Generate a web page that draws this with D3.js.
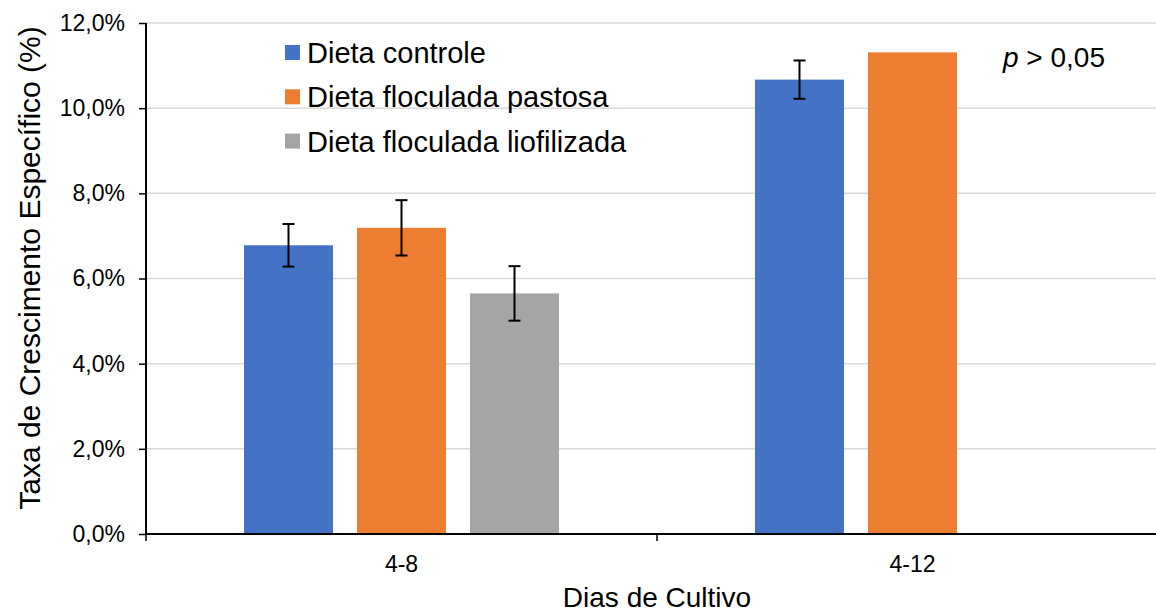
<!DOCTYPE html>
<html>
<head>
<meta charset="utf-8">
<script src="https://cdn.jsdelivr.net/npm/d3@7"></script>
<style>
  body { margin: 0; background: #fff; }
  text { font-family: "Liberation Sans", Arial, sans-serif; fill: #000; }
</style>
</head>
<body>
<div id="chart"></div>
<script>
// data
const categories = ['4-8', '4-12'];
const series = ['Dieta controle', 'Dieta floculada pastosa', 'Dieta floculada liofilizada'];
const colors = ['#4472C4', '#ED7D31', '#A5A5A5'];
// values in %, null = no bar
const values = [
    [6.78, 10.67],
    [7.19, 11.31],
    [5.65, null]
];
const errors = [
    [0.50, 0.45],
    [0.65, null],
    [0.64, null]
];
const yTicks = [0, 2, 4, 6, 8, 10, 12];

let width = 1156,
    height = 614,
    margin = { top: 23, right: -12, bottom: 80, left: 146 };

let svg = d3.select('#chart')
    .append('svg')
    .attr('width', width)
    .attr('height', height);

let plotW = width - margin.left - margin.right,
    plotH = height - margin.top - margin.bottom;

let g = svg.append('g')
    .attr('transform', 'translate(' + margin.left + ',' + margin.top + ')');

let x0 = d3.scaleBand()
    .domain(categories)
    .range([0, plotW]);

let groupW = 315;
let x1 = d3.scaleBand()
    .domain(series)
    .range([(x0.bandwidth() - groupW) / 2, (x0.bandwidth() + groupW) / 2])
    .paddingInner(0.2124);

let y = d3.scaleLinear()
    .domain([0, 12])
    .range([plotH, 0]);

// gridlines
g.append('g')
    .selectAll('line')
    .data(yTicks.filter(d => d > 0))
    .enter().append('line')
    .attr('x1', 0)
    .attr('x2', plotW)
    .attr('y1', d => y(d))
    .attr('y2', d => y(d))
    .attr('stroke', '#d9d9d9')
    .attr('stroke-width', 1.5);

// bars
series.forEach(function(s, i) {
    let rows = categories.map((c, j) => ({ c: c, v: values[i][j], e: errors[i][j] }))
        .filter(d => d.v != null);

    g.append('g')
        .selectAll('rect')
        .data(rows)
        .enter().append('rect')
        .attr('x', d => x0(d.c) + x1(s))
        .attr('width', x1.bandwidth())
        .attr('y', d => y(d.v))
        .attr('height', d => plotH - y(d.v))
        .attr('fill', colors[i]);

    let eb = g.append('g')
        .selectAll('g')
        .data(rows.filter(d => d.e != null))
        .enter().append('g')
        .attr('transform', d => 'translate(' + (x0(d.c) + x1(s) + x1.bandwidth() / 2) + ',0)');
    eb.append('line')
        .attr('y1', d => y(d.v + d.e))
        .attr('y2', d => y(d.v - d.e))
        .attr('stroke', '#000')
        .attr('stroke-width', 2);
    eb.append('line')
        .attr('x1', -6).attr('x2', 6)
        .attr('y1', d => y(d.v + d.e))
        .attr('y2', d => y(d.v + d.e))
        .attr('stroke', '#000')
        .attr('stroke-width', 2);
    eb.append('line')
        .attr('x1', -6).attr('x2', 6)
        .attr('y1', d => y(d.v - d.e))
        .attr('y2', d => y(d.v - d.e))
        .attr('stroke', '#000')
        .attr('stroke-width', 2);
});

// y axis
let yAxis = d3.axisLeft(y)
    .tickValues(yTicks)
    .tickSize(7)
    .tickPadding(14)
    .tickFormat(d => d3.format('.1f')(d).replace('.', ',') + '%');

let ya = g.append('g').call(yAxis);
ya.select('.domain').attr('stroke', '#000').attr('stroke-width', 2).attr('d', 'M0,0V' + plotH);
ya.selectAll('.tick line').attr('stroke', '#000').attr('stroke-width', 1.5);
ya.selectAll('text').style('font-size', '23px').attr('font-family', null);

// x axis
let xa = g.append('g')
    .attr('transform', 'translate(0,' + plotH + ')')
    .call(d3.axisBottom(x0).tickSize(0).tickPadding(22));
xa.select('.domain').attr('stroke', '#000').attr('stroke-width', 2).attr('d', 'M0,0H' + plotW);
xa.selectAll('text').style('font-size', '23px').attr('font-family', null);

// category dividers
g.append('g')
    .selectAll('line')
    .data(categories.concat(['end']))
    .enter().append('line')
    .attr('x1', (d, i) => i * x0.step())
    .attr('x2', (d, i) => i * x0.step())
    .attr('y1', plotH)
    .attr('y2', plotH + 7)
    .attr('stroke', '#000')
    .attr('stroke-width', 1.5);

// axis titles
svg.append('text')
    .attr('transform', 'translate(29,268) rotate(-90)')
    .attr('text-anchor', 'middle')
    .attr('dominant-baseline', 'central')
    .style('font-size', '30px')
    .text('Taxa de Crescimento Específico (%)');

svg.append('text')
    .attr('x', margin.left + plotW / 2)
    .attr('y', 607)
    .attr('text-anchor', 'middle')
    .style('font-size', '28px')
    .text('Dias de Cultivo');

// legend
let legend = svg.append('g')
    .attr('transform', 'translate(285,53)');
let li = legend.selectAll('g')
    .data(series)
    .enter().append('g')
    .attr('transform', (d, i) => 'translate(0,' + (i * 44.3) + ')');
li.append('rect')
    .attr('x', 0)
    .attr('y', -8)
    .attr('width', 15)
    .attr('height', 15)
    .attr('fill', (d, i) => colors[i]);
li.append('text')
    .attr('x', 22)
    .attr('y', 0)
    .attr('dominant-baseline', 'central')
    .style('font-size', '29px')
    .text(d => d);

// p value
let pt = svg.append('text')
    .attr('x', 1003)
    .attr('y', 67)
    .style('font-size', '28px');
pt.append('tspan').style('font-style', 'italic').text('p');
pt.append('tspan').text(' > 0,05');
</script>
</body>
</html>
